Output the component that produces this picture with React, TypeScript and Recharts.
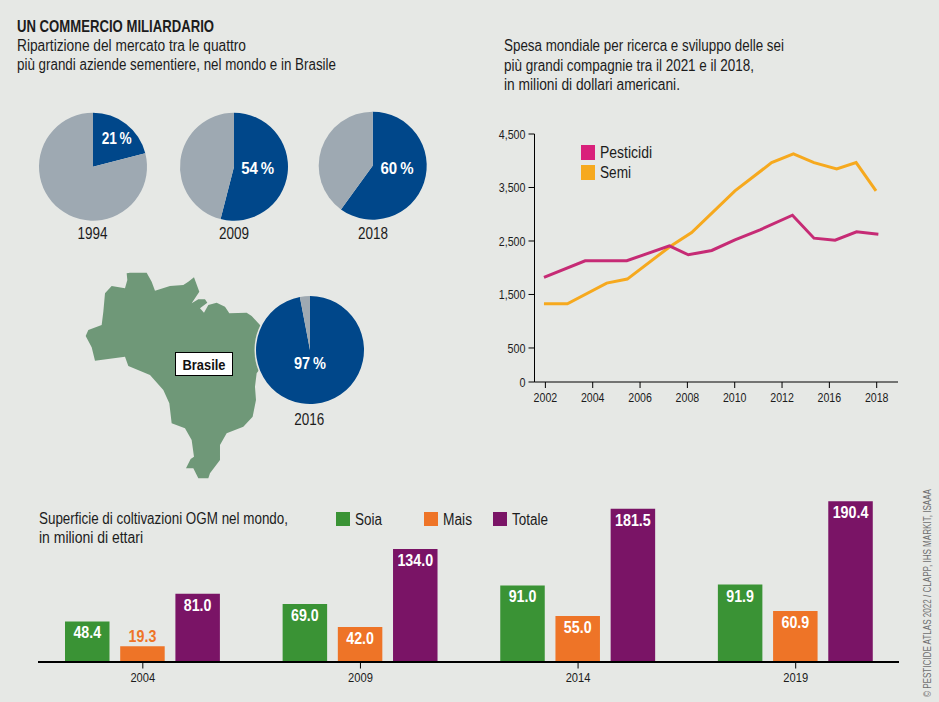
import React from "react";
import { PieChart, Pie, Cell, LineChart, Line, XAxis, YAxis, BarChart, Bar, LabelList } from "recharts";

// ---------- data ----------
const pieYears = ["1994", "2009", "2018", "2016"];
const pieShares = [21, 54, 60, 97];

// x positions are on the axis' own evenly spaced scale (one tick = 2 units)
const pesticidiX = [2001.94, 2003.68, 2005.44, 2007.24, 2008.04, 2009.03, 2010.01, 2011.07, 2012.44, 2013.35, 2014.24, 2015.15, 2016.07];
const pesticidiY = [1819, 2130, 2130, 2410, 2242, 2323, 2522, 2708, 2982, 2553, 2516, 2671, 2628];
const semiX = [2001.94, 2002.93, 2004.59, 2005.46, 2007.27, 2008.18, 2010.01, 2011.56, 2012.48, 2013.35, 2014.31, 2015.13, 2015.97];
const semiY = [1327, 1327, 1713, 1788, 2397, 2659, 3436, 3965, 4127, 3965, 3847, 3965, 3436];
const lineXTicks = [2002, 2004, 2006, 2008, 2010, 2012, 2014, 2016];
const lineXLabels = ["2002", "2004", "2006", "2008", "2010", "2012", "2016", "2018"];
const AXIS_FLOOR = -136; // the original axis has a short break between 500 and 0
const lineYTicks = [AXIS_FLOOR, 500, 1500, 2500, 3500, 4500];
const lineYLabels = ["0", "500", "1,500", "2,500", "3,500", "4,500"];

const barYears = ["2004", "2009", "2014", "2019"];
const soia = [48.4, 69.0, 91.0, 91.9];
const mais = [19.3, 42.0, 55.0, 60.9];
const totale = [81.0, 134.0, 181.5, 190.4];

// ---------- style ----------
const BG = "#e6e8e5";
const BLUE = "#00478a";
const GREY = "#9ea9b2";
const MAP = "#6f9878";
const PINK_LINE = "#c62b75";
const PINK = "#d9217b";
const AMBER = "#f6a91e";
const GREEN = "#3a9335";
const ORANGE = "#ee7427";
const PURPLE = "#7a1466";
const INK = "#1c1c1c";
const FONT = '"Liberation Sans", sans-serif';

const piePlaces = [
  { cx: 93, cy: 166.7, dx: 23.7, dy: -28.5, w: 30 },
  { cx: 234, cy: 166.7, dx: 23.7, dy: 1.8, w: 33 },
  { cx: 372.7, cy: 165.7, dx: 24.3, dy: 2.8, w: 33 },
  { cx: 310, cy: 350, dx: 0, dy: 13, w: 32 },
];
const pieYearLabels = [
  { x: 92.5, y: 238.5 },
  { x: 234, y: 238.5 },
  { x: 373, y: 238.5 },
  { x: 309.3, y: 425 },
];

const Txt = ({ x, y, w, size = 16, weight = 400, anchor = "start", fill = INK, children, ...rest }: any) => (
  <text x={x} y={y} textLength={w} lengthAdjust="spacingAndGlyphs" fontSize={size} fontWeight={weight}
    textAnchor={anchor} fill={fill} fontFamily={FONT} {...rest}>
    {children}
  </text>
);

// condensed look: width of a numeric label from its digits and separators
const numWidth = (s: string, digit: number, sep: number) =>
  [...s].reduce((sum, ch) => sum + (ch >= "0" && ch <= "9" ? digit : sep), 0);

const AxisTick = ({ x, y, payload, textAnchor, vertical, labels, ticks, digit, size }: any) => {
  const raw = labels ? labels[ticks.indexOf(payload.value)] : String(payload.value);
  return (
    <Txt
      x={x}
      y={vertical ? y + size * 0.355 : y + size * 0.71}
      w={numWidth(raw, digit, 2.7)}
      size={size}
      anchor={textAnchor}
    >
      {raw}
    </Txt>
  );
};

const BRAZIL =
  "M170 40 L180 38 L230 38 L245 65 L255 92 L300 78 L340 75 L355 65 L372 52 L388 95 L365 130 L385 118 L405 118 L412 128 L390 145 L402 158 L415 135 L440 128 L465 140 L478 160 L530 158 L545 168 L570 195 L590 220 L590 300 L560 340 L555 380 L558 420 L548 470 L520 500 L470 520 L450 555 L450 600 L420 640 L415 655 L385 655 L370 625 L348 625 L362 597 L372 590 L365 540 L345 505 L305 490 L298 430 L280 390 L240 345 L175 318 L165 290 L75 302 L65 262 L47 228 L55 210 L95 195 L100 155 L105 100 L125 78 L165 85 L172 60 Z";

const abs = (left: number, top: number, extra: any = {}) => ({ position: "absolute" as const, left, top, ...extra });

const SharePies = () => (
  <div style={abs(0, 0)}>
    <PieChart width={939} height={440} margin={{ top: 0, right: 0, bottom: 0, left: 0 }}>
      {pieShares.map((share, i) => {
        const p = piePlaces[i];
        const rows = [
          { name: "Top 4", value: share },
          { name: "Altri", value: 100 - share },
        ];
        return (
          <Pie
            key={pieYears[i]}
            data={rows}
            dataKey="value"
            cx={p.cx}
            cy={p.cy}
            innerRadius={0}
            outerRadius={54}
            startAngle={90}
            endAngle={-270}
            stroke="none"
            isAnimationActive={false}
            labelLine={false}
            label={(props: any) =>
              props.index === 0 ? (
                <Txt x={p.cx + p.dx} y={p.cy + p.dy} w={p.w} size={17} weight={700} anchor="middle" fill="#ffffff" dominantBaseline="central">
                  {`${props.value}\u2009%`}
                </Txt>
              ) : null
            }
          >
            <Cell fill={BLUE} />
            <Cell fill={GREY} />
          </Pie>
        );
      })}
    </PieChart>
  </div>
);

const lineLegend = [
  { name: "Pesticidi", color: PINK, y: 145, w: 52 },
  { name: "Semi", color: AMBER, y: 165, w: 31 },
];

const SpendLines = () => {
  const pest = pesticidiX.map((x, i) => ({ x, y: pesticidiY[i] }));
  const semi = semiX.map((x, i) => ({ x, y: semiY[i] }));
  return (
    <div style={abs(480, 120)}>
      <LineChart width={440} height={290} margin={{ top: 14, right: 22, bottom: 4, left: 4.5 }}>
        <XAxis
          dataKey="x"
          type="number"
          domain={[2001.54, 2016.9]}
          ticks={lineXTicks}
          interval={0}
          allowDuplicatedCategory={false}
          tick={<AxisTick labels={lineXLabels} ticks={lineXTicks} digit={5.9} size={13} />}
          tickSize={6}
          tickMargin={5}
          height={24}
          axisLine={{ stroke: "#000" }}
          tickLine={{ stroke: "#000" }}
        />
        <YAxis
          dataKey="y"
          type="number"
          domain={[AXIS_FLOOR, 4500]}
          ticks={lineYTicks}
          interval={0}
          tick={<AxisTick vertical labels={lineYLabels} ticks={lineYTicks} digit={6} size={13} />}
          tickSize={6}
          tickMargin={3}
          width={50}
          axisLine={{ stroke: "#000" }}
          tickLine={{ stroke: "#000" }}
        />
        <Line data={semi} dataKey="y" name="Semi" type="linear" stroke={AMBER} strokeWidth={3} dot={false} isAnimationActive={false} />
        <Line data={pest} dataKey="y" name="Pesticidi" type="linear" stroke={PINK_LINE} strokeWidth={3} dot={false} isAnimationActive={false} />
      </LineChart>
    </div>
  );
};

const barRows = barYears.map((year, i) => ({ year, soia: soia[i], mais: mais[i], totale: totale[i] }));

const ValueLabel = (props: any) => {
  const { x, y, width, value } = props;
  const small = value < 25;
  const text = Number(value).toFixed(1);
  return (
    <Txt
      x={x + width / 2}
      y={small ? y - 10 : y + 11.5}
      w={numWidth(text, 8.1, 3.4)}
      size={17}
      weight={700}
      anchor="middle"
      dominantBaseline="central"
      fill={small ? ORANGE : "#ffffff"}
    >
      {text}
    </Txt>
  );
};

const barLegend = [
  { name: "Soia", color: GREEN, x: 336, w: 27 },
  { name: "Mais", color: ORANGE, x: 424, w: 29 },
  { name: "Totale", color: PURPLE, x: 493, w: 36 },
];

const AreaBars = () => (
  <div style={abs(20, 480)}>
    <BarChart
      width={899}
      height={210}
      data={barRows}
      margin={{ top: 13, right: 14.5, bottom: 7.5, left: 14 }}
      barGap={10.7}
      barSize={44.5}
    >
      <XAxis
        dataKey="year"
        interval={0}
        axisLine={false}
        tick={<AxisTick digit={6.2} size={13} />}
        tickSize={6}
        tickMargin={4}
        height={20}
        tickLine={{ stroke: "#000" }}
      />
      <YAxis hide domain={[0, 200]} />
      <Bar dataKey="soia" fill={GREEN} isAnimationActive={false}>
        <LabelList dataKey="soia" content={<ValueLabel />} />
      </Bar>
      <Bar dataKey="mais" fill={ORANGE} isAnimationActive={false}>
        <LabelList dataKey="mais" content={<ValueLabel />} />
      </Bar>
      <Bar dataKey="totale" fill={PURPLE} isAnimationActive={false}>
        <LabelList dataKey="totale" content={<ValueLabel />} />
      </Bar>
    </BarChart>
  </div>
);

export default function App() {
  return (
    <div style={abs(0, 0, { width: 939, height: 702, background: BG, overflow: "hidden" })}>
      {/* map under the pies */}
      <svg width={939} height={702} style={abs(0, 0)}>
        <g transform="translate(70 260) scale(0.3333)">
          <path d={BRAZIL} fill={MAP} />
        </g>
        <circle cx={310} cy={350} r={55.5} fill={BG} />
      </svg>

      <SharePies />
      <SpendLines />
      <AreaBars />

      {/* bar baseline */}
      <div style={abs(38, 661, { width: 861, height: 1.5, background: "#000" })} />

      {/* texts and legends */}
      <svg width={939} height={702} style={abs(0, 0)}>
        <Txt x={17} y={32} w={197} size={16.5} weight={700}>UN COMMERCIO MILIARDARIO</Txt>
        <Txt x={17} y={50.5} w={229}>Ripartizione del mercato tra le quattro</Txt>
        <Txt x={17} y={69.5} w={319}>più grandi aziende sementiere, nel mondo e in Brasile</Txt>

        <Txt x={504} y={51} w={280}>Spesa mondiale per ricerca e sviluppo delle sei</Txt>
        <Txt x={504} y={70.5} w={250}>più grandi compagnie tra il 2021 e il 2018,</Txt>
        <Txt x={504} y={89.5} w={176}>in milioni di dollari americani.</Txt>

        <Txt x={39} y={524} w={249}>Superficie di coltivazioni OGM nel mondo,</Txt>
        <Txt x={39} y={542.5} w={104}>in milioni di ettari</Txt>

        {pieYears.map((year, i) => (
          <Txt key={year} x={pieYearLabels[i].x} y={pieYearLabels[i].y} w={30} anchor="middle">{year}</Txt>
        ))}

        <rect x={175.5} y={352.5} width={57} height={23} fill="#fff" stroke="#000" strokeWidth={1} />
        <Txt x={204} y={364.5} w={43} size={15} weight={700} anchor="middle" fill="#111" dominantBaseline="central">Brasile</Txt>

        {lineLegend.map((item) => (
          <g key={item.name}>
            <rect x={581} y={item.y} width={14} height={15} fill={item.color} />
            <Txt x={600} y={item.y + 13} w={item.w}>{item.name}</Txt>
          </g>
        ))}

        {barLegend.map((item) => (
          <g key={item.name}>
            <rect x={item.x} y={512} width={14} height={14} fill={item.color} />
            <Txt x={item.x + 19} y={525} w={item.w}>{item.name}</Txt>
          </g>
        ))}

        <Txt x={0} y={0} w={208} size={10.5} fill="#6f6f6f" transform="translate(931 697) rotate(-90)">
          © PESTICIDE ATLAS 2022 / CLAPP, IHS MARKIT, ISAAA
        </Txt>
      </svg>
    </div>
  );
}
